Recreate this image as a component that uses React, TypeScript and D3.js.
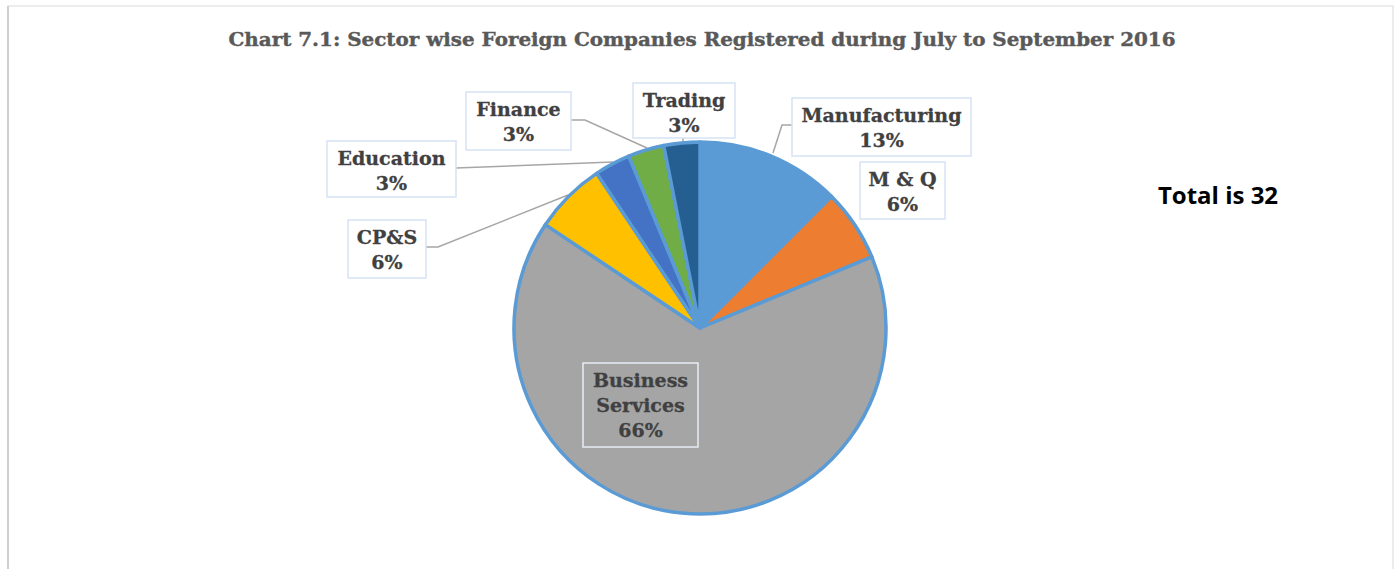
import React from "react";
import * as d3 from "d3";

const categories = ["Manufacturing", "M & Q", "Business Services", "CP&S", "Education", "Finance", "Trading"];
const counts = [4, 2, 21, 2, 1, 1, 1];
const percentLabels = ["13%", "6%", "66%", "6%", "3%", "3%", "3%"];
const colors = ["#5B9BD5", "#ED7D31", "#A5A5A5", "#FFC000", "#4472C4", "#70AD47", "#255E91"];
const titleText = "Chart 7.1: Sector wise Foreign Companies Registered during July to September 2016";
const totalText = "Total is 32";

// label box layout: [x0, y0, x1, y1], name lines
const labelBoxes: { box: number[]; lines: string[]; leader?: number[][]; fill?: string; border?: string }[] = [
  { box: [792, 98, 971, 156], lines: ["Manufacturing"], leader: [[792, 125], [782, 125], [773, 153]] },
  { box: [860, 162, 945, 219], lines: ["M & Q"] },
  { box: [583, 363, 698, 447], lines: ["Business", "Services"], fill: "none", border: "#E8EEF6" },
  { box: [348, 220, 426, 278], lines: ["CP&S"], leader: [[426, 247], [438, 247], [568, 195]] },
  { box: [327, 141, 456, 197], lines: ["Education"], leader: [[456, 168], [613, 162]] },
  { box: [466, 92, 571, 150], lines: ["Finance"], leader: [[571, 120], [585, 120], [647, 148]] },
  { box: [633, 83, 735, 138], lines: ["Trading"], leader: [[683, 138], [683, 142]] },
];

export default function App() {
  const cx = 700, cy = 328, r = 186;
  const pie = d3.pie<number>().sort(null).value((d) => d);
  const arcs = pie(counts);
  const arcGen = d3.arc<d3.PieArcDatum<number>>().innerRadius(0).outerRadius(r);
  const line = d3.line();
  const fontFam = "'DejaVu Serif', serif";

  return (
    <svg width={1400} height={569} style={{ position: "absolute", left: 0, top: 0, background: "#fff" }}>
      <rect x={0} y={0} width={1400} height={569} fill="#fff" />
      <rect x={8} y={6} width={1385} height={600} fill="#fff" stroke="#D9D9D9" strokeWidth={1} />
      <line x1={8} y1={6} x2={8} y2={569} stroke="#CFCFCF" strokeWidth={2} />
      <text x={702} y={46} textAnchor="middle" fontFamily={fontFam} fontWeight="bold" fontSize={18.5}
        fill="#595959" stroke="#595959" strokeWidth={0.4} textLength={947} lengthAdjust="spacingAndGlyphs">{titleText}</text>

      {labelBoxes.map((lb, i) =>
        lb.leader ? (
          <path key={"l" + i} d={line(lb.leader as [number, number][]) || ""} fill="none" stroke="#A6A6A6" strokeWidth={1.5} />
        ) : null
      )}

      <g transform={`translate(${cx},${cy})`}>
        {arcs.map((a, i) => (
          <path key={i} d={arcGen(a) || ""} fill={colors[i]} stroke="#5B9BD5" strokeWidth={3.5} strokeLinejoin="round" />
        ))}
      </g>

      {labelBoxes.map((lb, i) => {
        const [x0, y0, x1, y1] = lb.box;
        const mid = (x0 + x1) / 2;
        const lines = [...lb.lines, percentLabels[i]];
        return (
          <g key={"b" + i}>
            <rect x={x0} y={y0} width={x1 - x0} height={y1 - y0} fill={lb.fill || "#fff"}
              stroke={lb.border || "#D6E3F3"} strokeWidth={1.5} />
            {lines.map((t, j) => (
              <text key={j} x={mid} y={y0 + 17 + j * 25} dy="0.35em" textAnchor="middle"
                fontFamily={fontFam} fontWeight="bold" fontSize={19} fill="#404040"
                stroke="#404040" strokeWidth={0.3}>{t}</text>
            ))}
          </g>
        );
      })}

      <text x={1218} y={204} textAnchor="middle" fontFamily="'Open Sans', Lato, sans-serif" fontWeight="bold"
        fontSize={24} fill="#000">{totalText}</text>
    </svg>
  );
}
